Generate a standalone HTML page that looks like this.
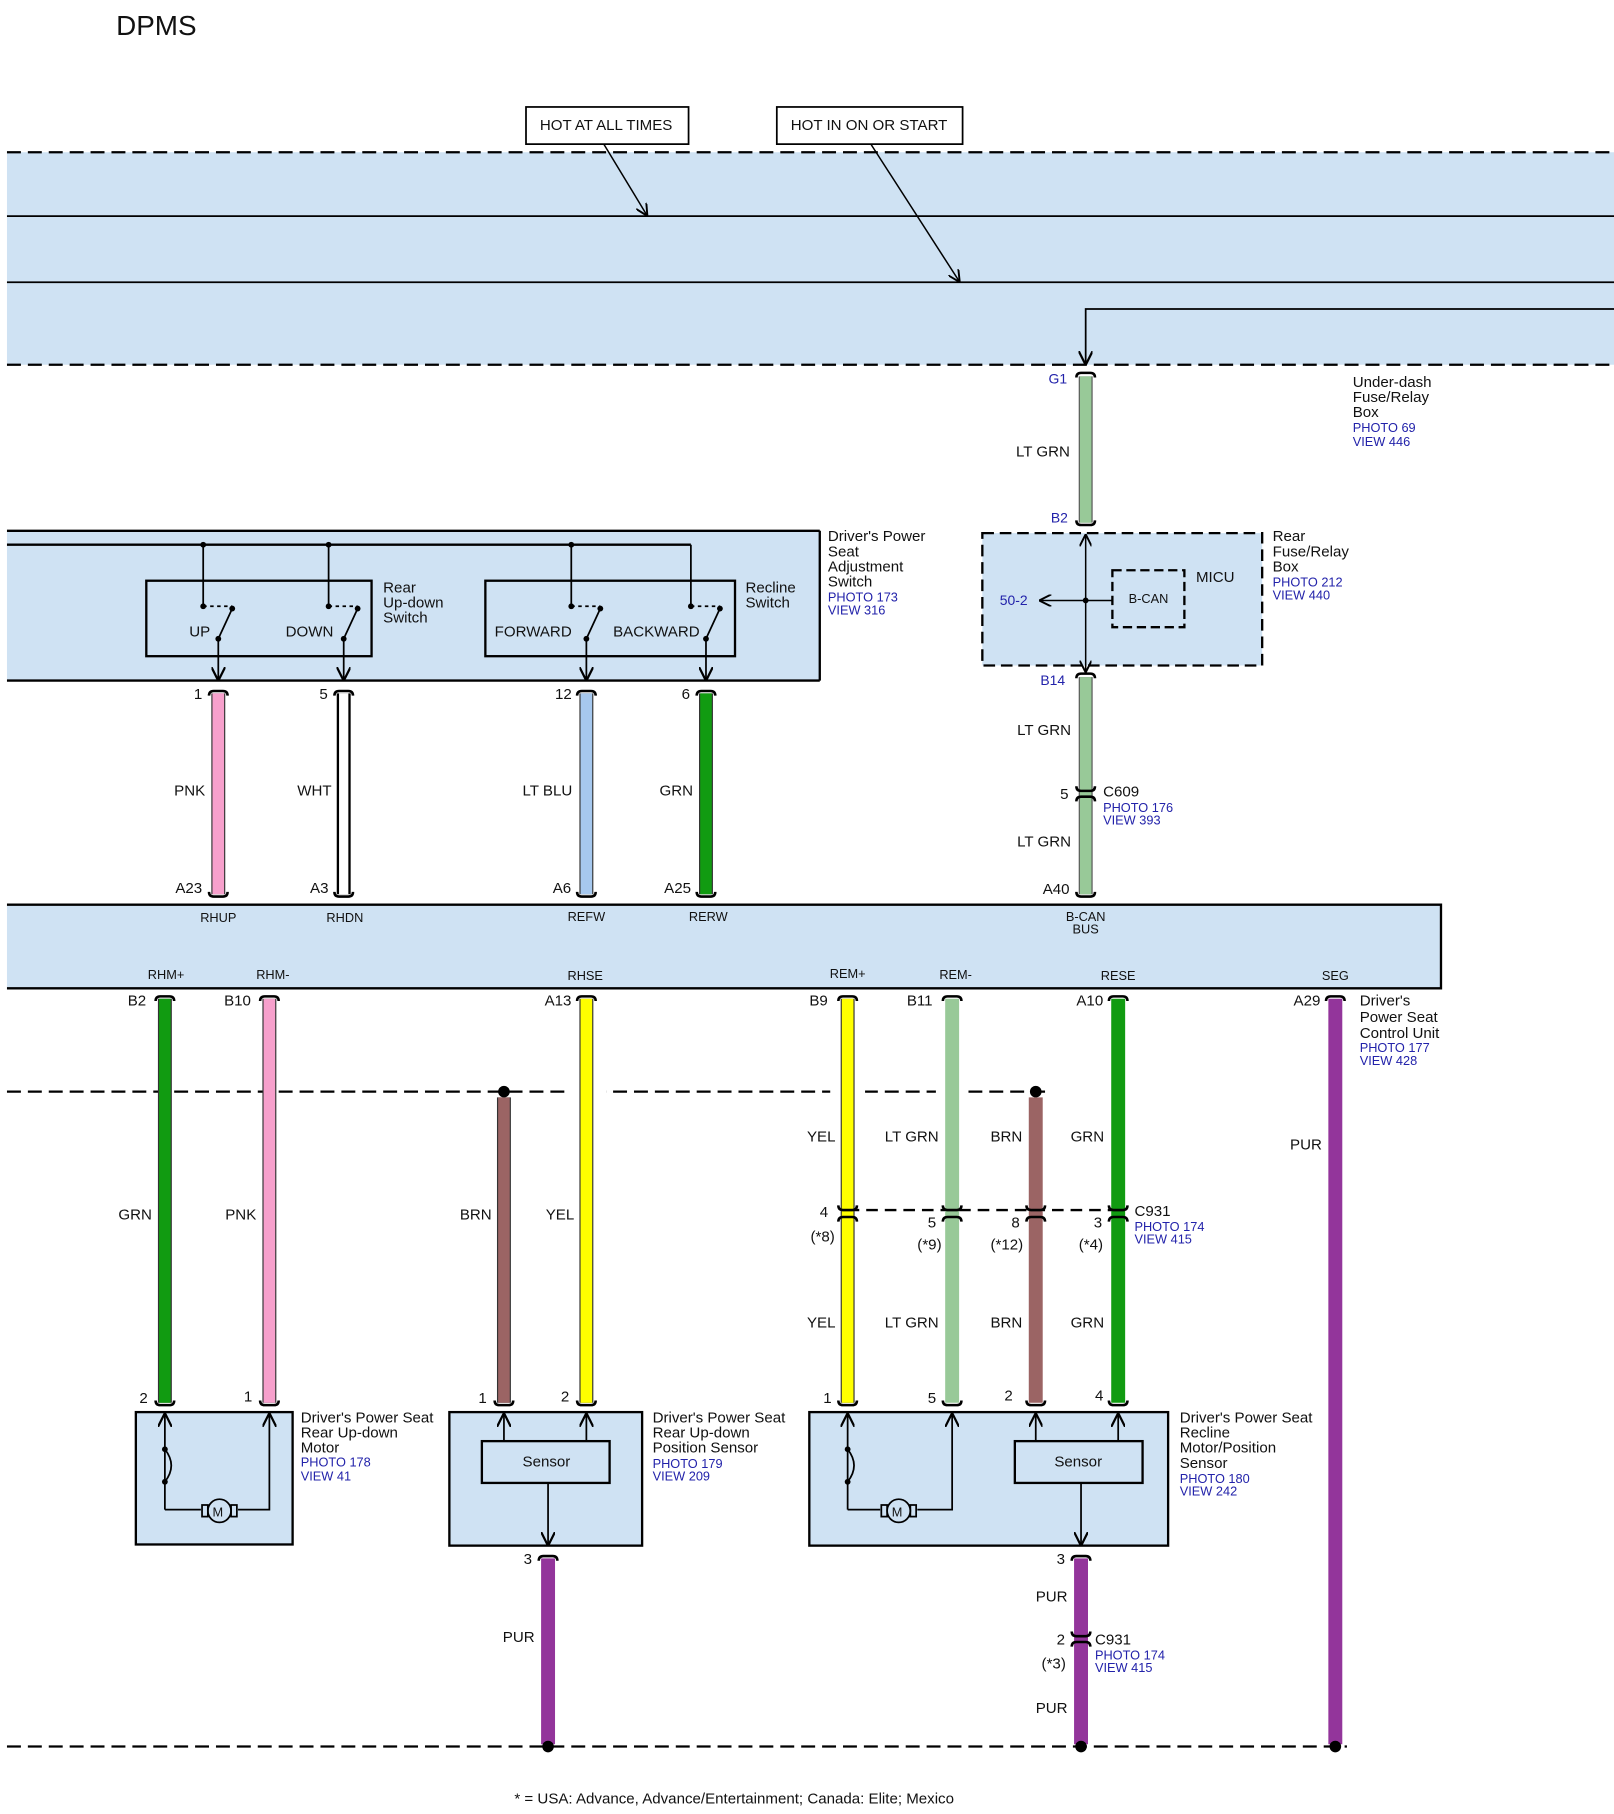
<!DOCTYPE html>
<html><head><meta charset="utf-8"><style>
html,body{margin:0;padding:0;background:#fff}
svg{display:block}
text{font-family:"Liberation Sans",Arial,sans-serif;font-size:13px;fill:#111}
.b{fill:#2222aa;font-size:11px}
.s{font-size:11px}
</style></head><body>
<svg width="1614" height="1814" viewBox="0 0 1390 1562" xmlns="http://www.w3.org/2000/svg">
<defs>
<marker id="ar" viewBox="0 0 10 10" refX="9" refY="5" markerWidth="8" markerHeight="8" orient="auto-start-reverse"><path d="M0,0 L10,5 L0,10" fill="none" stroke="#000" stroke-width="1.6"/></marker>
<path id="ct" d="M-8,4 Q-8,0 -4,0 L4,0 Q8,0 8,4" fill="none" stroke="#000" stroke-width="2.2"/>
<path id="cb" d="M-8,-4 Q-8,0 -4,0 L4,0 Q8,0 8,-4" fill="none" stroke="#000" stroke-width="2.2"/>
</defs>
<text x="100" y="30" style="font-size:24px">DPMS</text>

<rect x="6" y="131" width="1384" height="183" fill="#cfe2f3"/>
<line x1="6" y1="131" x2="1390" y2="131" stroke="#000" stroke-width="2" stroke-dasharray="12,6"/>
<line x1="6" y1="314" x2="1390" y2="314" stroke="#000" stroke-width="2" stroke-dasharray="12,6"/>
<line x1="6" y1="186" x2="1390" y2="186" stroke="#000" stroke-width="1.5"/>
<line x1="6" y1="243" x2="1390" y2="243" stroke="#000" stroke-width="1.5"/>
<rect x="453" y="92" width="140" height="32" fill="#fff" stroke="#000" stroke-width="1.5"/>
<text x="465" y="112">HOT AT ALL TIMES</text>
<rect x="669" y="92" width="160" height="32" fill="#fff" stroke="#000" stroke-width="1.5"/>
<text x="681" y="112">HOT IN ON OR START</text>
<line x1="520" y1="124" x2="557" y2="185" stroke="#000" stroke-width="1.3" marker-end="url(#ar)"/>
<line x1="750" y1="124" x2="826" y2="242" stroke="#000" stroke-width="1.3" marker-end="url(#ar)"/>
<path d="M1390,266 L935,266 L935,313" fill="none" stroke="#000" stroke-width="1.5" marker-end="url(#ar)"/>

<use href="#ct" x="935" y="321"/>
<text x="903" y="330" class="b" style="font-size:12px">G1</text>
<line x1="935" y1="324" x2="935" y2="450" stroke="#555" stroke-width="12"/>
<line x1="935" y1="324" x2="935" y2="450" stroke="#98c998" stroke-width="10"/>
<text x="875" y="393">LT GRN</text>
<use href="#cb" x="935" y="452"/>
<text x="905" y="450" class="b" style="font-size:12px">B2</text>
<text x="1165" y="333">Under-dash</text><text x="1165" y="346">Fuse/Relay</text><text x="1165" y="359">Box</text>
<text x="1165" y="372" class="b">PHOTO 69</text><text x="1165" y="384" class="b">VIEW 446</text>

<rect x="846" y="459" width="241" height="114" fill="#cfe2f3" stroke="#000" stroke-width="2" stroke-dasharray="10,5"/>
<line x1="935" y1="461" x2="935" y2="578" stroke="#000" stroke-width="1.3" marker-start="url(#ar)" marker-end="url(#ar)"/>
<line x1="935" y1="517" x2="896" y2="517" stroke="#000" stroke-width="1.3" marker-end="url(#ar)"/>
<line x1="935" y1="517" x2="958" y2="517" stroke="#000" stroke-width="1.3"/>
<circle cx="935" cy="517" r="2.5"/>
<text x="861" y="521" class="b" style="font-size:12px">50-2</text>
<rect x="958" y="491" width="62" height="49" fill="none" stroke="#000" stroke-width="2" stroke-dasharray="8,4"/>
<text x="972" y="519" class="s">B-CAN</text>
<text x="1030" y="501">MICU</text>
<text x="1096" y="466">Rear</text><text x="1096" y="479">Fuse/Relay</text><text x="1096" y="492">Box</text>
<text x="1096" y="505" class="b">PHOTO 212</text><text x="1096" y="516" class="b">VIEW 440</text>

<use href="#ct" x="935" y="580"/>
<text x="896" y="590" class="b" style="font-size:12px">B14</text>
<line x1="935" y1="583" x2="935" y2="770" stroke="#555" stroke-width="12"/>
<line x1="935" y1="583" x2="935" y2="770" stroke="#98c998" stroke-width="10"/>
<text x="876" y="633">LT GRN</text>
<use href="#cb" x="935" y="681"/><use href="#ct" x="935" y="686"/>
<text x="913" y="688">5</text>
<text x="950" y="686">C609</text><text x="950" y="699" class="b">PHOTO 176</text><text x="950" y="710" class="b">VIEW 393</text>
<text x="876" y="729">LT GRN</text>
<use href="#cb" x="935" y="772"/>
<text x="898" y="770">A40</text>

<rect x="6" y="457" width="700" height="129" fill="#cfe2f3"/>
<line x1="6" y1="457" x2="706" y2="457" stroke="#000" stroke-width="2"/>
<line x1="6" y1="586" x2="706" y2="586" stroke="#000" stroke-width="2"/>
<line x1="706" y1="457" x2="706" y2="586" stroke="#000" stroke-width="2"/>
<line x1="6" y1="469" x2="595" y2="469" stroke="#000" stroke-width="2"/>
<rect x="126" y="500" width="194" height="65" fill="none" stroke="#000" stroke-width="2"/>
<rect x="418" y="500" width="215" height="65" fill="none" stroke="#000" stroke-width="2"/>
<g stroke="#000" stroke-width="1.5" fill="none">
<path d="M175,469V522 M283,469V522 M492,469V522 M595,469V522"/>
<path d="M175,522h25 M283,522h25 M492,522h25 M595,522h25" stroke-dasharray="3,3"/>
<path d="M200,524L188,550 M308,524L296,550 M517,524L505,550 M620,524L608,550"/>
<path d="M188,550V585" marker-end="url(#ar)"/><path d="M296,550V585" marker-end="url(#ar)"/><path d="M505,550V585" marker-end="url(#ar)"/><path d="M608,550V585" marker-end="url(#ar)"/>
</g>
<g><circle cx="175" cy="469" r="2.5"/><circle cx="283" cy="469" r="2.5"/><circle cx="492" cy="469" r="2.5"/>
<circle cx="175" cy="522" r="2.5"/><circle cx="200" cy="524" r="2.5"/><circle cx="188" cy="550" r="2.5"/>
<circle cx="283" cy="522" r="2.5"/><circle cx="308" cy="524" r="2.5"/><circle cx="296" cy="550" r="2.5"/>
<circle cx="492" cy="522" r="2.5"/><circle cx="517" cy="524" r="2.5"/><circle cx="505" cy="550" r="2.5"/>
<circle cx="595" cy="522" r="2.5"/><circle cx="620" cy="524" r="2.5"/><circle cx="608" cy="550" r="2.5"/></g>
<text x="163" y="548">UP</text><text x="246" y="548">DOWN</text><text x="426" y="548">FORWARD</text><text x="528" y="548">BACKWARD</text>
<text x="330" y="510">Rear</text><text x="330" y="523">Up-down</text><text x="330" y="536">Switch</text>
<text x="642" y="510">Recline</text><text x="642" y="523">Switch</text>
<text x="713" y="466">Driver's Power</text><text x="713" y="479">Seat</text><text x="713" y="492">Adjustment</text><text x="713" y="505">Switch</text>
<text x="713" y="518" class="b">PHOTO 173</text><text x="713" y="529" class="b">VIEW 316</text>

<g>
<line x1="188" y1="597" x2="188" y2="770" stroke="#333" stroke-width="12"/><line x1="188" y1="597" x2="188" y2="770" stroke="#f7a0cc" stroke-width="10"/>
<line x1="296" y1="597" x2="296" y2="770" stroke="#000" stroke-width="12"/><line x1="296" y1="597" x2="296" y2="770" stroke="#fff" stroke-width="8"/>
<line x1="505" y1="597" x2="505" y2="770" stroke="#333" stroke-width="12"/><line x1="505" y1="597" x2="505" y2="770" stroke="#a6c8ee" stroke-width="10"/>
<line x1="608" y1="597" x2="608" y2="770" stroke="#333" stroke-width="12"/><line x1="608" y1="597" x2="608" y2="770" stroke="#119b11" stroke-width="10"/>
</g>
<use href="#ct" x="188" y="595"/><use href="#ct" x="296" y="595"/><use href="#ct" x="505" y="595"/><use href="#ct" x="608" y="595"/>
<use href="#cb" x="188" y="772"/><use href="#cb" x="296" y="772"/><use href="#cb" x="505" y="772"/><use href="#cb" x="608" y="772"/>
<text x="167" y="602">1</text><text x="275" y="602">5</text><text x="478" y="602">12</text><text x="587" y="602">6</text>
<text x="150" y="685">PNK</text><text x="256" y="685">WHT</text><text x="450" y="685">LT BLU</text><text x="568" y="685">GRN</text>
<text x="151" y="769">A23</text><text x="267" y="769">A3</text><text x="476" y="769">A6</text><text x="572" y="769">A25</text>

<rect x="6" y="779" width="1235" height="72" fill="#cfe2f3"/>
<path d="M6,779H1241V851H6" fill="none" stroke="#000" stroke-width="2"/>
<g text-anchor="middle">
<text x="188" y="794" class="s">RHUP</text><text x="297" y="794" class="s">RHDN</text><text x="505" y="793" class="s">REFW</text><text x="610" y="793" class="s">RERW</text>
<text x="935" y="793" class="s">B-CAN</text><text x="935" y="804" class="s">BUS</text>
<text x="143" y="843" class="s">RHM+</text><text x="235" y="843" class="s">RHM-</text><text x="504" y="844" class="s">RHSE</text><text x="730" y="842" class="s">REM+</text><text x="823" y="843" class="s">REM-</text><text x="963" y="844" class="s">RESE</text><text x="1150" y="844" class="s">SEG</text>
</g>

<line x1="6" y1="940" x2="900" y2="940" stroke="#000" stroke-width="2" stroke-dasharray="12,6"/>
<rect x="490" y="935" width="32" height="10" fill="#fff"/><rect x="715" y="935" width="30" height="10" fill="#fff"/><rect x="806" y="935" width="28" height="10" fill="#fff"/>
<line x1="730" y1="1042" x2="963" y2="1042" stroke="#000" stroke-width="2" stroke-dasharray="10,6"/>

<g>
<line x1="142" y1="860" x2="142" y2="1208" stroke="#333" stroke-width="12"/><line x1="142" y1="860" x2="142" y2="1208" stroke="#119b11" stroke-width="10"/>
<line x1="232" y1="860" x2="232" y2="1208" stroke="#333" stroke-width="12"/><line x1="232" y1="860" x2="232" y2="1208" stroke="#f7a0cc" stroke-width="10"/>
<line x1="434" y1="945" x2="434" y2="1208" stroke="#333" stroke-width="12"/><line x1="434" y1="945" x2="434" y2="1208" stroke="#9b6464" stroke-width="10"/>
<line x1="505" y1="860" x2="505" y2="1208" stroke="#333" stroke-width="12"/><line x1="505" y1="860" x2="505" y2="1208" stroke="#ffff00" stroke-width="10"/>
<line x1="730" y1="860" x2="730" y2="1208" stroke="#333" stroke-width="12"/><line x1="730" y1="860" x2="730" y2="1208" stroke="#ffff00" stroke-width="10"/>
<line x1="820" y1="860" x2="820" y2="1208" stroke="#98c998" stroke-width="12"/>
<line x1="892" y1="945" x2="892" y2="1208" stroke="#9b6464" stroke-width="12"/>
<line x1="963" y1="860" x2="963" y2="1208" stroke="#119b11" stroke-width="12"/>
<line x1="1150" y1="860" x2="1150" y2="1502" stroke="#93359b" stroke-width="12"/>
<line x1="472" y1="1342" x2="472" y2="1502" stroke="#93359b" stroke-width="12"/>
<line x1="931" y1="1342" x2="931" y2="1502" stroke="#93359b" stroke-width="12"/>
</g>
<circle cx="434" cy="940" r="5"/><circle cx="892" cy="940" r="5"/>
<g>
<use href="#ct" x="142" y="858"/><use href="#ct" x="232" y="858"/><use href="#ct" x="505" y="858"/><use href="#ct" x="730" y="858"/><use href="#ct" x="820" y="858"/><use href="#ct" x="963" y="858"/><use href="#ct" x="1150" y="858"/>
<use href="#cb" x="730" y="1042"/><use href="#cb" x="820" y="1042"/><use href="#cb" x="892" y="1042"/><use href="#cb" x="963" y="1042"/>
<use href="#ct" x="730" y="1048"/><use href="#ct" x="820" y="1048"/><use href="#ct" x="892" y="1048"/><use href="#ct" x="963" y="1048"/>
<use href="#cb" x="142" y="1210"/><use href="#cb" x="232" y="1210"/><use href="#cb" x="434" y="1210"/><use href="#cb" x="505" y="1210"/><use href="#cb" x="730" y="1210"/><use href="#cb" x="820" y="1210"/><use href="#cb" x="892" y="1210"/><use href="#cb" x="963" y="1210"/>
<use href="#ct" x="472" y="1340"/><use href="#ct" x="931" y="1340"/>
<use href="#cb" x="931" y="1409"/><use href="#ct" x="931" y="1414"/>
</g>
<text x="110" y="866">B2</text><text x="193" y="866">B10</text><text x="469" y="866">A13</text><text x="697" y="866">B9</text><text x="781" y="866">B11</text><text x="927" y="866">A10</text><text x="1114" y="866">A29</text>
<text x="1171" y="866">Driver's</text><text x="1171" y="880">Power Seat</text><text x="1171" y="894">Control Unit</text>
<text x="1171" y="906" class="b">PHOTO 177</text><text x="1171" y="917" class="b">VIEW 428</text>
<text x="102" y="1050">GRN</text><text x="194" y="1050">PNK</text><text x="396" y="1050">BRN</text><text x="470" y="1050">YEL</text>
<text x="695" y="983">YEL</text><text x="762" y="983">LT GRN</text><text x="853" y="983">BRN</text><text x="922" y="983">GRN</text><text x="1111" y="990">PUR</text>
<text x="706" y="1048">4</text><text x="799" y="1057">5</text><text x="871" y="1057">8</text><text x="942" y="1057">3</text>
<text x="698" y="1069">(*8)</text><text x="790" y="1076">(*9)</text><text x="853" y="1076">(*12)</text><text x="929" y="1076">(*4)</text>
<text x="977" y="1047">C931</text><text x="977" y="1060" class="b">PHOTO 174</text><text x="977" y="1071" class="b">VIEW 415</text>
<text x="695" y="1143">YEL</text><text x="762" y="1143">LT GRN</text><text x="853" y="1143">BRN</text><text x="922" y="1143">GRN</text>
<text x="120" y="1208">2</text><text x="210" y="1207">1</text><text x="412" y="1208">1</text><text x="483" y="1207">2</text><text x="709" y="1208">1</text><text x="799" y="1208">5</text><text x="865" y="1206">2</text><text x="943" y="1206">4</text>

<rect x="117" y="1216" width="135" height="114" fill="#cfe2f3" stroke="#000" stroke-width="2"/>
<g fill="none" stroke="#000" stroke-width="1.5">
<path d="M142,1300V1218" marker-end="url(#ar)"/>
<path d="M142,1248Q153,1262 142,1276"/>
<path d="M142,1300H173"/><path d="M205,1300H232V1218" marker-end="url(#ar)"/>
<circle cx="189" cy="1301" r="10"/><rect x="174" y="1296" width="5" height="10"/><rect x="199" y="1296" width="5" height="10"/>
</g>
<circle cx="142" cy="1248" r="2.5"/><circle cx="142" cy="1276" r="2.5"/>
<text x="183" y="1306" class="s">M</text>
<text x="259" y="1225">Driver's Power Seat</text><text x="259" y="1238">Rear Up-down</text><text x="259" y="1251">Motor</text>
<text x="259" y="1263" class="b">PHOTO 178</text><text x="259" y="1275" class="b">VIEW 41</text>

<rect x="387" y="1216" width="166" height="115" fill="#cfe2f3" stroke="#000" stroke-width="2"/>
<rect x="415" y="1241" width="110" height="36" fill="none" stroke="#000" stroke-width="2"/>
<text x="450" y="1263">Sensor</text>
<g fill="none" stroke="#000" stroke-width="1.5">
<path d="M434,1241V1218" marker-end="url(#ar)"/><path d="M505,1241V1218" marker-end="url(#ar)"/><path d="M472,1277V1330" marker-end="url(#ar)"/>
</g>
<text x="562" y="1225">Driver's Power Seat</text><text x="562" y="1238">Rear Up-down</text><text x="562" y="1251">Position Sensor</text>
<text x="562" y="1264" class="b">PHOTO 179</text><text x="562" y="1275" class="b">VIEW 209</text>

<rect x="697" y="1216" width="309" height="115" fill="#cfe2f3" stroke="#000" stroke-width="2"/>
<rect x="874" y="1241" width="110" height="36" fill="none" stroke="#000" stroke-width="2"/>
<text x="908" y="1263">Sensor</text>
<g fill="none" stroke="#000" stroke-width="1.5">
<path d="M730,1300V1218" marker-end="url(#ar)"/>
<path d="M730,1248Q741,1262 730,1276"/>
<path d="M730,1300H758"/><path d="M790,1300H820V1218" marker-end="url(#ar)"/>
<circle cx="774" cy="1301" r="10"/><rect x="759" y="1296" width="5" height="10"/><rect x="784" y="1296" width="5" height="10"/>
<path d="M892,1241V1218" marker-end="url(#ar)"/><path d="M963,1241V1218" marker-end="url(#ar)"/><path d="M931,1277V1330" marker-end="url(#ar)"/>
</g>
<circle cx="730" cy="1248" r="2.5"/><circle cx="730" cy="1276" r="2.5"/>
<text x="768" y="1306" class="s">M</text>
<text x="1016" y="1225">Driver's Power Seat</text><text x="1016" y="1238">Recline</text><text x="1016" y="1251">Motor/Position</text><text x="1016" y="1264">Sensor</text>
<text x="1016" y="1277" class="b">PHOTO 180</text><text x="1016" y="1288" class="b">VIEW 242</text>

<text x="451" y="1347">3</text><text x="910" y="1347">3</text>
<text x="433" y="1414">PUR</text>
<text x="892" y="1379">PUR</text>
<text x="910" y="1416">2</text>
<text x="943" y="1416">C931</text><text x="943" y="1429" class="b">PHOTO 174</text><text x="943" y="1440" class="b">VIEW 415</text>
<text x="897" y="1437">(*3)</text>
<text x="892" y="1475">PUR</text>

<line x1="6" y1="1504" x2="1160" y2="1504" stroke="#000" stroke-width="2" stroke-dasharray="12,6"/>
<circle cx="472" cy="1504" r="5"/><circle cx="931" cy="1504" r="5"/><circle cx="1150" cy="1504" r="5"/>
<text x="443" y="1553">* = USA: Advance, Advance/Entertainment; Canada: Elite; Mexico</text>
</svg>
</body></html>
